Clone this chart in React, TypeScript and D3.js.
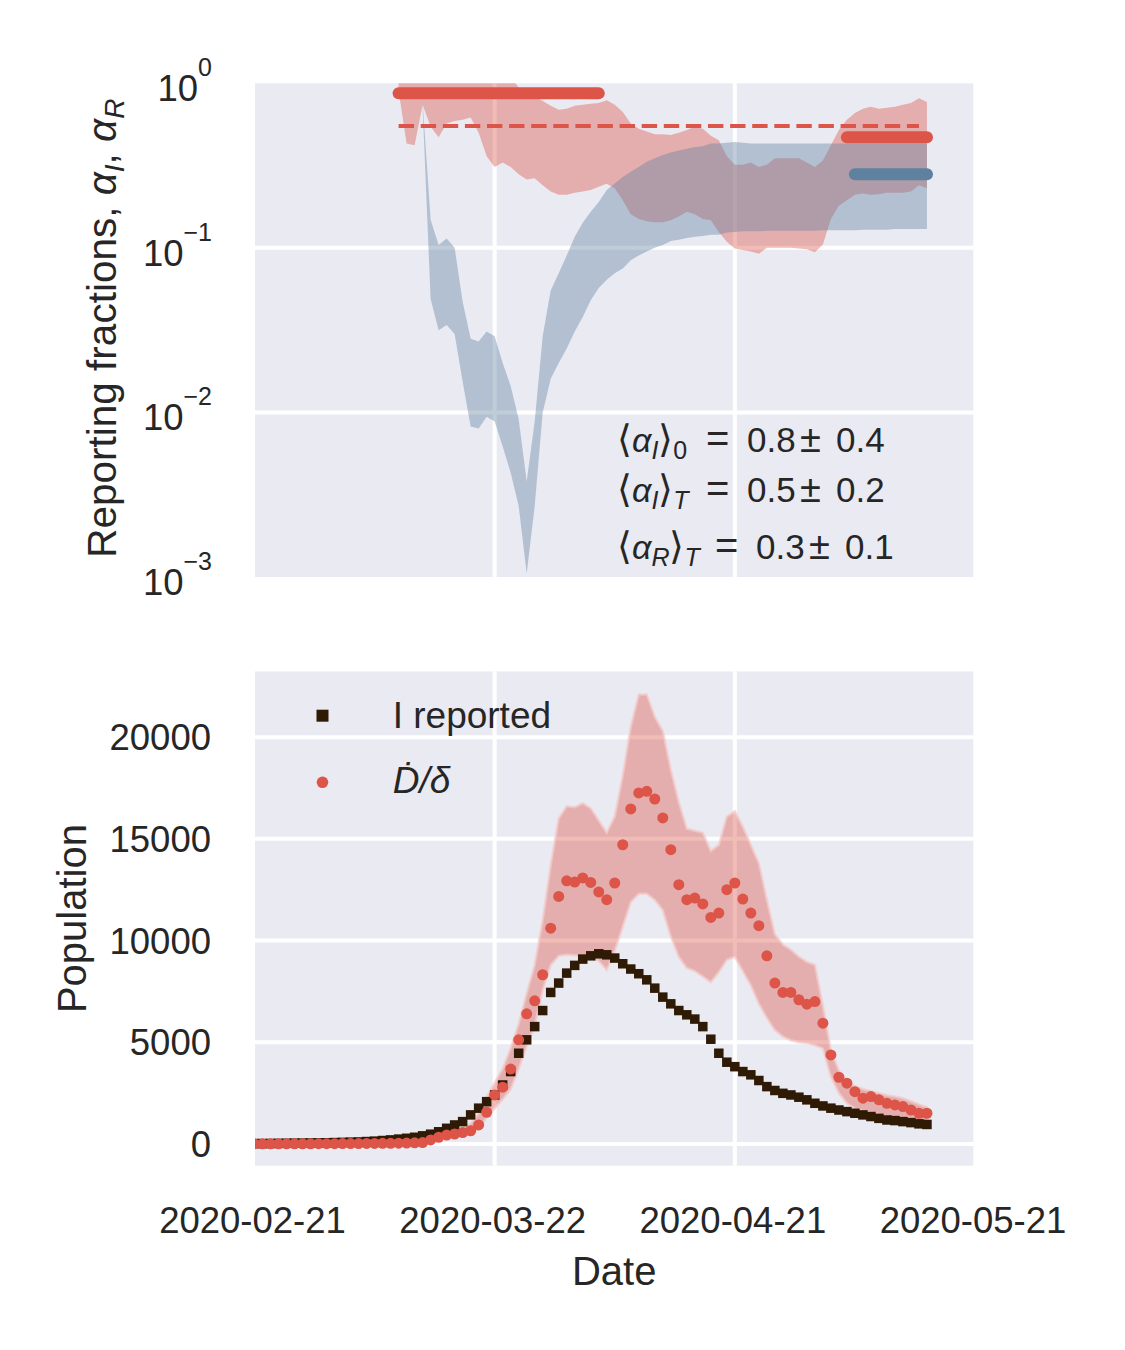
import * as d3 from "d3";
import { useEffect, useRef } from "react";

// one value per day, starting 2020-02-21
const iReported = [
    20, 20, 25, 30, 35, 40, 45, 50, 55, 60,
    70, 80, 90, 100, 120, 140, 170, 200, 240, 280,
    330, 400, 480, 600, 770, 935, 1100, 1430, 1760, 2080,
    2410, 2900, 3560, 4460, 5120, 5770, 6560, 7450, 7910, 8400,
    8780, 9090, 9250, 9350, 9300, 9140, 8860, 8600, 8370, 8070,
    7660, 7220, 6890, 6560, 6350, 6140, 5770, 5150, 4460, 4020,
    3800, 3560, 3400, 3120, 2820, 2630, 2490, 2410, 2300, 2170,
    2000, 1870, 1760, 1670, 1590, 1510, 1430, 1350, 1260, 1180,
    1150, 1100, 1050, 990, 960,
];

const dDelta = [
    5, 5, 5, 8, 8, 10, 10, 10, 12, 15,
    15, 18, 20, 20, 25, 25, 30, 35, 40, 45,
    55, 70, 200, 330, 440, 490, 560, 650, 935, 1560,
    2410, 2790, 3680, 5120, 6400, 7040, 8320, 10610, 12170, 12940,
    12880, 13080, 12860, 12390, 12010, 12830, 14710, 16470, 17260, 17340,
    16960, 16030, 14470, 12750, 12010, 12090, 11800, 11140, 11350, 12500,
    12830, 12040, 11350, 10730, 9250, 7910, 7450, 7450, 7090, 6870,
    7000, 5940, 4380, 3280, 2990, 2570, 2250, 2330, 2170, 2000,
    1920, 1840, 1670, 1510, 1510,
];

const dDeltaLow = [
    0, 0, 0, 2, 2, 4, 4, 4, 5, 7,
    7, 9, 10, 10, 13, 13, 16, 19, 22, 25,
    30, 40, 130, 230, 320, 370, 420, 500, 750, 1300,
    1750, 2200, 2700, 3700, 4800, 5800, 7580, 8800, 9250, 9300,
    9280, 9250, 9230, 9000, 8560, 9500, 10690, 11900, 12300, 12300,
    12000, 11500, 10200, 9200, 8650, 8500, 8230, 7950, 8450, 9050,
    9200, 8500, 7800, 6900, 6200, 5600, 5280, 5100, 5000, 4970,
    4850, 4700, 3300, 2500, 2000, 1750, 1640, 1550, 1450, 1350,
    1260, 1210, 1160, 1110, 1050,
];

const dDeltaHigh = [
    12, 12, 12, 16, 16, 18, 18, 18, 20, 24,
    24, 28, 30, 30, 38, 38, 45, 52, 58, 66,
    80, 120, 280, 450, 580, 650, 780, 1000, 1500, 2300,
    3000, 3700, 4700, 5900, 7400, 8800, 11000, 13700, 16000, 16600,
    16550, 16750, 16500, 15900, 15300, 16100, 18100, 20500, 22100, 22100,
    21000, 20300, 18400, 16800, 15500, 15400, 15300, 14400, 14700, 16100,
    16350, 15600, 14700, 13800, 12000, 10300, 9800, 9550, 9200, 8950,
    8800, 6800, 4600, 3600, 3000, 2850, 2700, 2600, 2500, 2400,
    2330, 2250, 2100, 1950, 1800,
];

// reporting fraction alpha_I, from day 18
const alphaIStart = 18;
const alphaILow = [
    0.9, 0.43, 0.42, 0.74, 0.545, 0.47, 0.57, 0.59, 0.6, 0.62,
    0.5, 0.36, 0.31, 0.33, 0.31, 0.28, 0.26, 0.265, 0.24, 0.22,
    0.21, 0.21, 0.216, 0.22, 0.225, 0.235, 0.245, 0.23, 0.195, 0.16,
    0.15, 0.145, 0.143, 0.143, 0.147, 0.155, 0.166, 0.16, 0.15, 0.147,
    0.125, 0.109, 0.099, 0.097, 0.095, 0.092, 0.1, 0.1, 0.1, 0.1,
    0.099, 0.098, 0.094, 0.105, 0.15, 0.18, 0.195, 0.21, 0.214, 0.21,
    0.212, 0.216, 0.216, 0.216, 0.22, 0.24, 0.23,
];
const alphaIHigh = [
    1.25, 1.25, 1.25, 1.25, 1.25, 1.25, 1.25, 1.25, 1.25, 1.25,
    1.25, 1.25, 1.25, 1.25, 1.1, 0.94, 0.87, 0.83, 0.78, 0.73,
    0.69, 0.7, 0.73, 0.74, 0.75, 0.76, 0.79, 0.74, 0.67, 0.57,
    0.53, 0.51, 0.49, 0.49, 0.485, 0.5, 0.52, 0.545, 0.53, 0.48,
    0.45, 0.36, 0.32, 0.32, 0.33, 0.31, 0.32, 0.35, 0.35, 0.35,
    0.35, 0.33, 0.31, 0.34, 0.42, 0.52, 0.6, 0.66, 0.7, 0.72,
    0.7, 0.71, 0.72, 0.74, 0.76, 0.81, 0.77,
];

// reporting fraction alpha_R, from day 21
const alphaRStart = 21;
const alphaRLow = [
    0.72, 0.049, 0.0316, 0.034, 0.03, 0.0154, 0.0082, 0.008, 0.0094, 0.0088,
    0.0062, 0.0043, 0.0027, 0.00105, 0.0027, 0.01, 0.016, 0.02, 0.0245, 0.031,
    0.038, 0.048, 0.057, 0.064, 0.07, 0.075, 0.084, 0.09, 0.095, 0.1,
    0.104, 0.11, 0.112, 0.115, 0.117, 0.118, 0.12, 0.12, 0.124, 0.125,
    0.126, 0.126, 0.126, 0.127, 0.127, 0.127, 0.127, 0.127, 0.127, 0.127,
    0.128, 0.128, 0.128, 0.128, 0.128, 0.129, 0.129, 0.129, 0.129, 0.13,
    0.13, 0.13, 0.13, 0.13,
];
const alphaRHigh = [
    0.77, 0.148, 0.104, 0.114, 0.1, 0.047, 0.028, 0.027, 0.031, 0.029,
    0.02, 0.0145, 0.0091, 0.0038, 0.0088, 0.029, 0.055, 0.07, 0.09, 0.117,
    0.142, 0.166, 0.19, 0.225, 0.246, 0.27, 0.29, 0.31, 0.334, 0.35,
    0.367, 0.38, 0.39, 0.4, 0.41, 0.415, 0.43, 0.43, 0.435, 0.44,
    0.435, 0.43, 0.43, 0.43, 0.43, 0.43, 0.43, 0.43, 0.43, 0.43,
    0.43, 0.43, 0.43, 0.43, 0.43, 0.43, 0.43, 0.43, 0.43, 0.43,
    0.43, 0.43, 0.43, 0.43,
];

// mean reporting fractions: [first day, last day, value]
const meanAlphaI0 = [18, 43, 0.87];
const meanAlphaIAll = [18, 83, 0.55];
const meanAlphaIT = [74, 84, 0.47];
const meanAlphaRT = [75, 84, 0.28];

const xTickLabels = ["2020-02-21", "2020-03-22", "2020-04-21", "2020-05-21"];
const popTicks = [0, 5000, 10000, 15000, 20000];
const logExponents = [0, -1, -2, -3];
const annotationValues = [
    ["0", "0.8", "0.4"],
    ["T", "0.5", "0.2"],
    ["T", "0.3", "0.1"],
];

const RED = "#dd5448";
const BLUE = "#5e819f";
const DARK = "#2e1a05";
const TEXT = "#262626";
const BG = "#eaeaf2";
const FONT = "'Liberation Sans', Arial, sans-serif";

export default function App() {
    const ref = useRef<SVGSVGElement | null>(null);

    useEffect(() => {
        if (!ref.current) return;
        const svg = d3.select(ref.current);
        svg.selectAll("*").remove();

        const start = Date.UTC(2020, 1, 21);
        const day = (n: number) => new Date(start + n * 86400000);
        const parse = d3.utcParse("%Y-%m-%d");

        const x = d3.scaleUtc()
            .domain([day(0), day(90)])
            .range([254.5, 975]);

        const topBox = { left: 255, right: 973.3, top: 83.3, bottom: 577 };
        const botBox = { left: 255, right: 973.3, top: 671.5, bottom: 1165.7 };

        const yTop = d3.scaleLog().domain([1e-3, 1]).range([topBox.bottom, topBox.top]);
        const yBot = d3.scaleLinear().domain([-1068, 23228]).range([botBox.bottom, botBox.top]);

        const defs = svg.append("defs");
        [["clipTop", topBox], ["clipBot", botBox]].forEach(([id, b]: any) => {
            defs.append("clipPath").attr("id", id)
                .append("rect")
                .attr("x", b.left).attr("y", b.top)
                .attr("width", b.right - b.left).attr("height", b.bottom - b.top);
        });

        const tickDates = xTickLabels.map((s) => parse(s)!);

        // backgrounds + grid
        [topBox, botBox].forEach((b) => {
            svg.append("rect")
                .attr("x", b.left).attr("y", b.top)
                .attr("width", b.right - b.left).attr("height", b.bottom - b.top)
                .attr("fill", BG);
            svg.append("g").selectAll("line")
                .data(tickDates.filter((d) => x(d) > b.left + 2 && x(d) < b.right - 2))
                .join("line")
                .attr("x1", (d) => x(d)).attr("x2", (d) => x(d))
                .attr("y1", b.top).attr("y2", b.bottom)
                .attr("stroke", "#fff").attr("stroke-width", 4);
        });
        svg.append("g").selectAll("line")
            .data(logExponents.filter((e) => e < 0 && e > -3))
            .join("line")
            .attr("x1", topBox.left).attr("x2", topBox.right)
            .attr("y1", (e) => yTop(10 ** e)).attr("y2", (e) => yTop(10 ** e))
            .attr("stroke", "#fff").attr("stroke-width", 4);
        svg.append("g").selectAll("line")
            .data(popTicks)
            .join("line")
            .attr("x1", botBox.left).attr("x2", botBox.right)
            .attr("y1", (v) => yBot(v)).attr("y2", (v) => yBot(v))
            .attr("stroke", "#fff").attr("stroke-width", 4);

        // top panel
        const gTop = svg.append("g").attr("clip-path", "url(#clipTop)");
        const bandI = d3.area<number>()
            .x((_, i) => x(day(alphaIStart + i)))
            .y0((_, i) => yTop(alphaILow[i]))
            .y1((d) => yTop(d));
        const bandR = d3.area<number>()
            .x((_, i) => x(day(alphaRStart + i)))
            .y0((_, i) => yTop(alphaRLow[i]))
            .y1((d) => yTop(d));
        gTop.append("path").attr("d", bandI(alphaIHigh)).attr("fill", RED).attr("fill-opacity", 0.4);
        gTop.append("path").attr("d", bandR(alphaRHigh)).attr("fill", BLUE).attr("fill-opacity", 0.4);

        const meanLine = (m: number[], color: string, width: number, dash?: string) => {
            const l = gTop.append("line")
                .attr("x1", x(day(m[0]))).attr("x2", x(day(m[1])))
                .attr("y1", yTop(m[2])).attr("y2", yTop(m[2]))
                .attr("stroke", color).attr("stroke-width", width);
            if (dash) l.attr("stroke-dasharray", dash);
            else l.attr("stroke-linecap", "round");
        };
        meanLine(meanAlphaIAll, RED, 4, "15.4 6.7");
        meanLine(meanAlphaI0, RED, 12);
        meanLine(meanAlphaIT, RED, 12);
        meanLine(meanAlphaRT, BLUE, 12);

        // bottom panel
        const gBot = svg.append("g").attr("clip-path", "url(#clipBot)");
        const band = d3.area<number>()
            .x((_, i) => x(day(i)))
            .y0((_, i) => yBot(dDeltaLow[i]))
            .y1((d) => yBot(d));
        gBot.append("path").attr("d", band(dDeltaHigh))
            .attr("fill", RED).attr("fill-opacity", 0.4)
            .attr("stroke", "#f4caca").attr("stroke-opacity", 0.7).attr("stroke-width", 2.5);
        const sq = 9.5;
        gBot.append("g").selectAll("rect")
            .data(iReported)
            .join("rect")
            .attr("x", (_, i) => x(day(i)) - sq / 2)
            .attr("y", (d) => yBot(d) - sq / 2)
            .attr("width", sq).attr("height", sq)
            .attr("fill", DARK);
        gBot.append("g").selectAll("circle")
            .data(dDelta)
            .join("circle")
            .attr("cx", (_, i) => x(day(i)))
            .attr("cy", (d) => yBot(d))
            .attr("r", 5.5)
            .attr("fill", RED);

        // axes text
        const txt = svg.append("g").attr("fill", TEXT).style("font-family", FONT);

        txt.append("g").selectAll("text")
            .data(tickDates)
            .join("text")
            .attr("x", (d) => x(d) - 2).attr("y", 1233)
            .attr("text-anchor", "middle").style("font-size", "36.5px")
            .text((_, i) => xTickLabels[i]);
        txt.append("text")
            .attr("x", (botBox.left + botBox.right) / 2).attr("y", 1285)
            .attr("text-anchor", "middle").style("font-size", "40px")
            .text("Date");

        txt.append("g").selectAll("text")
            .data(popTicks)
            .join("text")
            .attr("x", 211).attr("y", (v) => yBot(v) + 13)
            .attr("text-anchor", "end").style("font-size", "36.5px")
            .text((v) => String(v));

        const logLabels = txt.append("g").selectAll("text")
            .data(logExponents)
            .join("text")
            .attr("x", 212).attr("y", (e) => yTop(10 ** e) + 18)
            .attr("text-anchor", "end").style("font-size", "36.5px");
        logLabels.append("tspan").text("10");
        logLabels.append("tspan")
            .attr("dy", -25).style("font-size", "25px")
            .text((e) => (e < 0 ? "\u2212" + Math.abs(e) : String(e)));

        txt.append("text")
            .attr("transform", `translate(86,${(botBox.top + botBox.bottom) / 2}) rotate(-90)`)
            .attr("text-anchor", "middle").style("font-size", "40px")
            .text("Population");

        const yl = txt.append("text")
            .attr("transform", `translate(116,${(topBox.top + topBox.bottom) / 2 - 2}) rotate(-90)`)
            .attr("text-anchor", "middle").style("font-size", "40.5px");
        yl.append("tspan").text("Reporting fractions, ");
        yl.append("tspan").style("font-style", "italic").text("\u03b1");
        yl.append("tspan").attr("dy", 8).style("font-style", "italic").style("font-size", "28px").text("I");
        yl.append("tspan").attr("dy", -8).text(", ");
        yl.append("tspan").style("font-style", "italic").text("\u03b1");
        yl.append("tspan").attr("dy", 8).style("font-style", "italic").style("font-size", "28px").text("R");

        // annotation
        const baselines = [452.3, 502.3, 559];
        const subs = ["I", "I", "R"];
        annotationValues.forEach((vals, k) => {
            const shift = k === 2 ? 9 : 0;
            const yb = baselines[k];
            const t = txt.append("text").attr("x", 617).attr("y", yb).style("font-size", "34px");
            t.append("tspan").style("font-size", "38px").text("\u27e8");
            t.append("tspan").style("font-style", "italic").text("\u03b1");
            t.append("tspan").attr("dy", 7).style("font-style", "italic").style("font-size", "25px").text(subs[k]);
            t.append("tspan").attr("dy", -7).style("font-size", "38px").text("\u27e9");
            t.append("tspan").attr("dy", 7).style("font-size", "25px")
                .style("font-style", vals[0] === "T" ? "italic" : "normal").text(vals[0]);
            txt.append("text").attr("x", 706 + shift).attr("y", yb)
                .style("font-size", "40px").text("=");
            txt.append("text").attr("x", 747 + shift).attr("y", yb)
                .style("font-size", "35px").text(vals[1]);
            txt.append("text").attr("x", 800 + shift).attr("y", yb)
                .style("font-size", "38px").text("\u00b1");
            txt.append("text").attr("x", 836 + shift).attr("y", yb)
                .style("font-size", "35px").text(vals[2]);
        });

        // legend
        const lg = svg.append("g").style("font-family", FONT).attr("fill", TEXT);
        lg.append("rect").attr("x", 322.5 - 6).attr("y", 715.7 - 6).attr("width", 12).attr("height", 12).attr("fill", DARK);
        lg.append("circle").attr("cx", 322.5).attr("cy", 782.3).attr("r", 5.8).attr("fill", RED);
        lg.append("text").attr("x", 392.7).attr("y", 728.3).style("font-size", "37px").text("I reported");
        lg.append("text").attr("x", 392.7).attr("y", 793.3)
            .style("font-size", "37px").style("font-style", "italic")
            .text("\u1e0a/\u03b4");
    }, []);

    return (
        <div style={{ position: "absolute", left: 0, top: 0, width: 1125, height: 1350, background: "#fff" }}>
            <svg ref={ref} width={1125} height={1350}></svg>
        </div>
    );
}
